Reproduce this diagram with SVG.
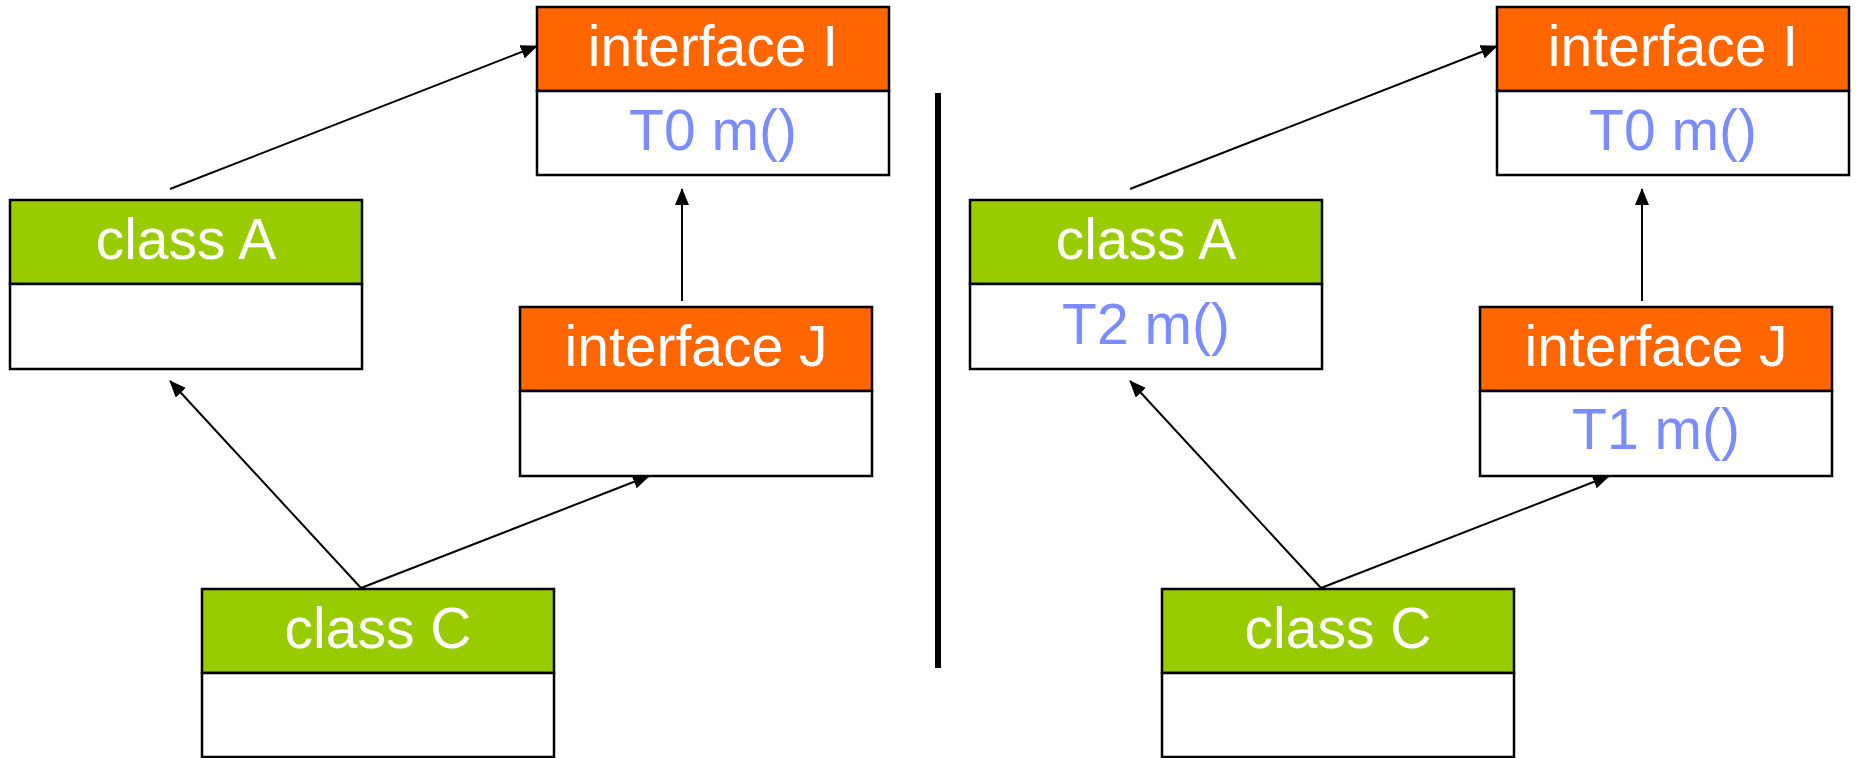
<svg xmlns="http://www.w3.org/2000/svg" width="1856" height="758" viewBox="0 0 1856 758">
<defs>
<style>
.hdrI{fill:#FF6600;stroke:#000;stroke-width:2.5}
.hdrC{fill:#99CC00;stroke:#000;stroke-width:2.5}
.body{fill:#FFFFFF;stroke:#000;stroke-width:2.5}
.t{font-family:"Liberation Sans",Arial,sans-serif;font-size:57px;text-anchor:middle}
.w{fill:#FFFFFF}
.b{fill:#7B8CFF}
.c{stroke:#000;stroke-width:2;fill:none;marker-end:url(#ah)}
</style>
<marker id="ah" markerUnits="userSpaceOnUse" markerWidth="17" markerHeight="14" refX="16" refY="7" orient="auto">
<path d="M0,0 L17,7 L0,14 z" fill="#000"/>
</marker>
</defs>
<rect width="1856" height="758" fill="#FFFFFF"/>

<g id="connectors">
<line class="c" x1="170" y1="189" x2="537" y2="46"/>
<line class="c" x1="682" y1="301" x2="682" y2="189"/>
<line class="c" x1="361" y1="588" x2="170" y2="381"/>
<line class="c" x1="361" y1="588" x2="649" y2="476"/>
<line class="c" x1="1130" y1="189" x2="1497" y2="46"/>
<line class="c" x1="1642" y1="301" x2="1642" y2="189"/>
<line class="c" x1="1321" y1="588" x2="1130" y2="381"/>
<line class="c" x1="1321" y1="588" x2="1609" y2="476"/>
</g>

<rect id="divider" x="935" y="93" width="6" height="575" fill="#000"/>

<g id="left-interfaceI">
<rect class="hdrI" x="537" y="7" width="352" height="84"/>
<rect class="body" x="537" y="91" width="352" height="84"/>
<text class="t w" x="713" y="66">interface I</text>
<text class="t b" x="713" y="150">T0 m()</text>
</g>
<g id="left-classA">
<rect class="hdrC" x="10" y="200" width="352" height="84"/>
<rect class="body" x="10" y="284" width="352" height="85"/>
<text class="t w" x="186" y="259">class A</text>
</g>
<g id="left-interfaceJ">
<rect class="hdrI" x="520" y="307" width="352" height="84"/>
<rect class="body" x="520" y="391" width="352" height="85"/>
<text class="t w" x="696" y="366">interface J</text>
</g>
<g id="left-classC">
<rect class="hdrC" x="202" y="589" width="352" height="84"/>
<rect class="body" x="202" y="673" width="352" height="84"/>
<text class="t w" x="378" y="648">class C</text>
</g>

<g id="right-interfaceI">
<rect class="hdrI" x="1497" y="7" width="352" height="84"/>
<rect class="body" x="1497" y="91" width="352" height="84"/>
<text class="t w" x="1673" y="66">interface I</text>
<text class="t b" x="1673" y="150">T0 m()</text>
</g>
<g id="right-classA">
<rect class="hdrC" x="970" y="200" width="352" height="84"/>
<rect class="body" x="970" y="284" width="352" height="85"/>
<text class="t w" x="1146" y="259">class A</text>
<text class="t b" x="1146" y="344">T2 m()</text>
</g>
<g id="right-interfaceJ">
<rect class="hdrI" x="1480" y="307" width="352" height="84"/>
<rect class="body" x="1480" y="391" width="352" height="85"/>
<text class="t w" x="1656" y="366">interface J</text>
<text class="t b" x="1656" y="449">T1 m()</text>
</g>
<g id="right-classC">
<rect class="hdrC" x="1162" y="589" width="352" height="84"/>
<rect class="body" x="1162" y="673" width="352" height="84"/>
<text class="t w" x="1338" y="648">class C</text>
</g>
</svg>
